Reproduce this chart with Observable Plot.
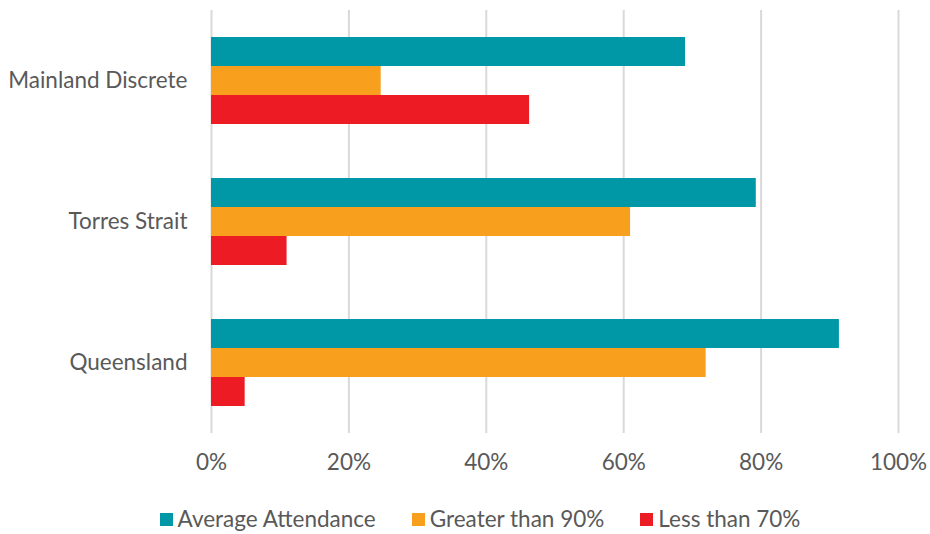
<!DOCTYPE html>
<html>
<head>
<meta charset="utf-8">
<script src="https://cdn.jsdelivr.net/npm/d3@7"></script>
<script src="https://cdn.jsdelivr.net/npm/@observablehq/plot@0.6"></script>
<style>
  body { margin: 0; background: #fff; font-family: Lato, "Liberation Sans", sans-serif; }
  #wrap { width: 930px; height: 534px; position: relative; }
  svg text, svg g[aria-label$="axis"] { font-weight: normal !important; }
  .legend { position: absolute; top: 505px; left: 0; width: 930px; display: flex; justify-content: center; gap: 36px; color: #595959; font-size: 22.5px; line-height: 28px; padding-left: 30px; box-sizing: border-box; }
  .legend span.item { display: flex; align-items: center; }
  .legend span.sw { display: inline-block; width: 13px; height: 13px; margin-right: 5px; }
</style>
</head>
<body>
<div id="wrap"></div>
<script>
const regions = ["Mainland Discrete", "Torres Strait", "Queensland"];
const series = ["Average Attendance", "Greater than 90%", "Less than 70%"];
const colors = ["#0097A7", "#F89F1D", "#ED1C24"];
const averageAttendance = [0.690, 0.793, 0.914];
const greaterThan90 = [0.247, 0.610, 0.720];
const lessThan70 = [0.463, 0.110, 0.049];
const xTicks = [0, 0.2, 0.4, 0.6, 0.8, 1.0];

const valuesBySeries = [averageAttendance, greaterThan90, lessThan70];
const data = [];
regions.forEach((r, i) => {
  series.forEach((s, j) => data.push({region: r, series: s, value: valuesBySeries[j][i]}));
});

const chart = Plot.plot({
  width: 930,
  height: 490,
  marginLeft: 211,
  marginRight: 32,
  marginTop: 9,
  marginBottom: 56,
  style: {fontFamily: "Lato, 'Liberation Sans', sans-serif", fontSize: "22.5px", color: "#595959", background: "#fff"},
  x: {domain: [0, 1], label: null},
  y: {domain: series, axis: null, paddingInner: 0, paddingOuter: 0.918},
  fy: {domain: regions, padding: 0, label: null},
  color: {domain: series, range: colors},
  marks: [
    Plot.ruleX(xTicks, {stroke: "#d9d9d9", strokeWidth: 2}),
    Plot.barX(data, {fy: "region", y: "series", x: "value", fill: "series"}),
    Plot.axisX({ticks: xTicks, tickFormat: d3.format(".0%"), tickSize: 0, tickPadding: 21, fill: "#595959", label: null, facetAnchor: "bottom"}),
    Plot.axisFy({tickSize: 0, tickPadding: 24, fill: "#595959", label: null, anchor: "left", fontWeight: "normal"})
  ]
});
const wrap = document.getElementById("wrap");
wrap.appendChild(chart);

const leg = document.createElement("div");
leg.className = "legend";
series.forEach((s, i) => {
  const it = document.createElement("span");
  it.className = "item";
  it.innerHTML = `<span class="sw" style="background:${colors[i]}"></span>${s}`;
  leg.appendChild(it);
});
wrap.appendChild(leg);
</script>
</body>
</html>
